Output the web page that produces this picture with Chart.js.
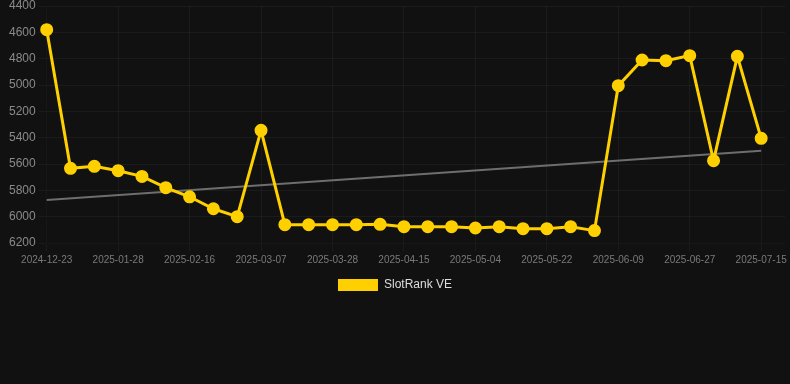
<!DOCTYPE html>
<html>
<head>
<meta charset="utf-8">
<script src="https://cdn.jsdelivr.net/npm/chart.js@4"></script>
<style>
  html, body { margin: 0; padding: 0; background: #111111; }
  #wrap { width: 790px; height: 301px; }
</style>
</head>
<body>
<div id="wrap"><canvas id="graph"></canvas></div>
<script>
// даты (последняя без значения, только для ширины оси)
var dates = [
  '2024-12-23', '2025-01-04', '2025-01-16', '2025-01-28', '2025-02-03', '2025-02-10',
  '2025-02-16', '2025-02-22', '2025-03-01', '2025-03-07', '2025-03-14', '2025-03-21',
  '2025-03-28', '2025-04-03', '2025-04-09', '2025-04-15', '2025-04-21', '2025-04-28',
  '2025-05-04', '2025-05-10', '2025-05-16', '2025-05-22', '2025-05-28', '2025-06-03',
  '2025-06-09', '2025-06-15', '2025-06-21', '2025-06-27', '2025-07-03', '2025-07-09',
  '2025-07-15', '2025-07-21'
];

// позиции в рейтинге
var rank = [
  4580, 5633, 5618, 5651, 5694, 5780, 5849, 5940, 6000, 5344,
  6061, 6061, 6061, 6061, 6058, 6076, 6076, 6076, 6086, 6076,
  6091, 6091, 6076, 6106, 5005, 4810, 4815, 4777, 5575, 4782,
  5405
];

// линия тренда: только начало и конец
var trendStart = 5874;
var trendEnd = 5499;
var trend = rank.map(function (v, i) {
  if (i === 0) return trendStart;
  if (i === rank.length - 1) return trendEnd;
  return null;
});

var ctx = document.getElementById('graph').getContext('2d');

var chart = new Chart(ctx, {
  type: 'line',
  data: {
    labels: dates,
    datasets: [{
      label: 'SlotRank VE',
      data: rank,
      borderColor: '#ffd000',
      backgroundColor: '#ffd000',
      borderWidth: 3,
      pointRadius: 5,
      pointHoverRadius: 6,
      tension: 0
    }, {
      label: 'trend',
      data: trend,
      borderColor: '#6e6e6e',
      borderWidth: 2,
      pointRadius: 0,
      spanGaps: true,
      fill: false
    }]
  },
  options: {
    responsive: true,
    maintainAspectRatio: false,
    animation: false,
    layout: { autoPadding: false },
    scales: {
      x: {
        afterFit: function (s) { s.paddingRight = 5; },
        grid: { color: 'rgba(255,255,255,0.045)' },
        ticks: {
          color: '#7a7a7a',
          font: { size: 10 },
          maxRotation: 0,
          autoSkip: true
        }
      },
      y: {
        reverse: true,
        min: 4400,
        max: 6200,
        afterFit: function (s) { s.paddingTop = 6; s.width = s.width + 6; },
        grid: { color: 'rgba(255,255,255,0.045)' },
        ticks: {
          stepSize: 200,
          color: '#8a8a8a',
          font: { size: 12 },
          callback: function (v) { return v; }
        }
      }
    },
    plugins: {
      legend: {
        position: 'bottom',
        labels: {
          color: '#dddddd',
          font: { size: 12 },
          boxWidth: 40,
          boxHeight: 12,
          generateLabels: function (chart) {
            var items = Chart.defaults.plugins.legend.labels.generateLabels(chart);
            items.forEach(function (it) { it.lineWidth = 0; });
            return items.filter(function (it) { return it.text !== 'trend'; });
          }
        }
      },
      tooltip: { enabled: false }
    }
  }
});
</script>
</body>
</html>
